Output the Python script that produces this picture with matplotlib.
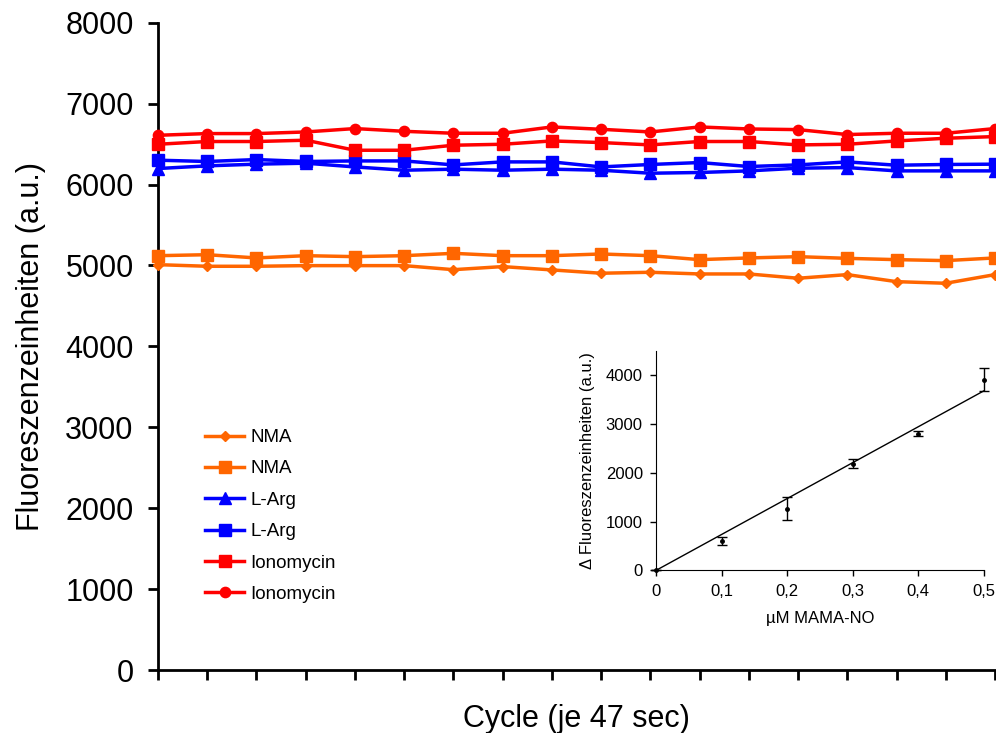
import numpy as np
import matplotlib
matplotlib.use("Agg")
import matplotlib.pyplot as plt
from matplotlib.ticker import FuncFormatter

plt.rcParams['font.family'] = ['Liberation Sans', 'DejaVu Sans']

# main chart: fluorescence per cycle
cycles = list(range(1, 19))
nma_diamond = [5010, 4990, 4990, 4998, 4998, 4998, 4948, 4986, 4945,
               4904, 4916, 4895, 4895, 4842, 4887, 4800, 4780, 4887]
nma_square = [5121, 5133, 5093, 5121, 5109, 5121, 5150, 5121, 5121,
              5142, 5121, 5072, 5093, 5109, 5088, 5072, 5060, 5093]
larg_triangle = [6198, 6231, 6252, 6264, 6218, 6177, 6190, 6177, 6190,
                 6177, 6140, 6149, 6169, 6202, 6210, 6169, 6169, 6169]
larg_square = [6301, 6285, 6309, 6285, 6292, 6292, 6243, 6280, 6280,
               6218, 6248, 6272, 6223, 6243, 6280, 6239, 6248, 6252]
iono_square = [6498, 6532, 6532, 6548, 6424, 6424, 6486, 6498, 6539,
               6519, 6490, 6532, 6532, 6490, 6498, 6539, 6572, 6593]
iono_circle = [6609, 6630, 6630, 6650, 6692, 6658, 6634, 6634, 6712,
               6683, 6650, 6712, 6687, 6679, 6618, 6634, 6634, 6692]

# inset: calibration with MAMA-NO
conc = [0.0, 0.1, 0.2, 0.3, 0.4, 0.5]
delta_f = [0, 602, 1265, 2188, 2803, 3904]
delta_err = [0, 85, 232, 96, 51, 236]

fig = plt.figure(figsize=(9.96, 7.33), dpi=100)
ax = fig.add_axes([0.1586, 0.0859, 0.8404, 0.8831])

orange = '#FF6600'
blue = '#0000FF'
red = '#FF0000'
series = [
    (nma_diamond, orange, 'D', 4.8, 'NMA'),
    (nma_square, orange, 's', 8.2, 'NMA'),
    (larg_triangle, blue, '^', 8, 'L-Arg'),
    (larg_square, blue, 's', 8.2, 'L-Arg'),
    (iono_square, red, 's', 8.2, 'Ionomycin'),
    (iono_circle, red, 'o', 7.4, 'Ionomycin'),
]
for vals, col, mk, ms, lab in series:
    ax.plot(cycles, vals, color=col, marker=mk, markersize=ms, lw=2.5,
            label=lab, clip_on=False, zorder=3)

ax.set_xlim(1, 18)
ax.set_ylim(0, 8000)
ax.set_xticks(cycles)
ax.set_xticklabels([])
ax.set_yticks(range(0, 8001, 1000))
ax.tick_params(axis='both', direction='out', length=7.5, width=2,
               labelsize=22, pad=10)
for s in ['top', 'right']:
    ax.spines[s].set_visible(False)
for s in ['left', 'bottom']:
    ax.spines[s].set_linewidth(2)
ax.set_ylabel('Fluoreszenzeinheiten (a.u.)', fontsize=22, labelpad=14)
ax.set_xlabel('Cycle (je 47 sec)', fontsize=22, labelpad=7)

ax.legend(loc='upper left', bbox_to_anchor=(205 / 996, 1 - 429 / 733),
          bbox_transform=fig.transFigure, frameon=False, fontsize=13.5,
          handlelength=2.1, handletextpad=0.3, labelspacing=0.76,
          borderpad=0, borderaxespad=0)

# inset
ins = fig.add_axes([0.6586, 0.2218, 0.3290, 0.2998])
ins.errorbar(conc, delta_f, yerr=delta_err, fmt='o', color='black',
             markersize=2.5, elinewidth=1, capsize=3.5, capthick=1,
             clip_on=False, zorder=3)
x_arr = np.array(conc)
y_arr = np.array(delta_f)
slope = np.sum(x_arr * y_arr) / np.sum(x_arr ** 2)
ins.plot([0, 0.5], [0, slope * 0.5], color='black', lw=1)
ins.set_xlim(0, 0.5)
ins.set_ylim(0, 4500)
ins.set_xticks(conc)
ins.xaxis.set_major_formatter(FuncFormatter(
    lambda v, p: '0' if v == 0 else ('%.1f' % v).replace('.', ',')))
ins.set_yticks(range(0, 4001, 1000))
ins.tick_params(axis='both', direction='out', length=4.5, width=1,
                labelsize=12, pad=5)
for s in ['top', 'right']:
    ins.spines[s].set_visible(False)
ins.set_ylabel('Δ Fluoreszenzeinheiten (a.u.)', fontsize=12, labelpad=8)
ins.set_xlabel('µM MAMA-NO', fontsize=12, labelpad=9)

fig.savefig('out.png', dpi=100)
